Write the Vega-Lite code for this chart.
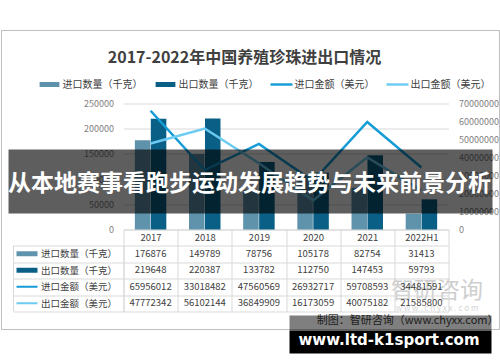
{
  "$schema": "https://vega.github.io/schema/vega-lite/v6.json",
  "padding": {"left": 0.5, "top": 29.5, "right": 0, "bottom": 0},
  "background": "white",
  "title": {"text": "2017-2022年中国养殖珍珠进出口情况", "fontSize": 16, "fontWeight": "bold", "color": "#404040", "anchor": "middle", "offset": -36.5, "dx": -6},
  "config": {"font": "Noto Sans CJK SC", "view": {"stroke": null}},
  "datasets": {
    "trade": [
      {"series": "进口数量（千克）", "year": "2017", "value": 176876},
      {"series": "进口数量（千克）", "year": "2018", "value": 149789},
      {"series": "进口数量（千克）", "year": "2019", "value": 78756},
      {"series": "进口数量（千克）", "year": "2020", "value": 105178},
      {"series": "进口数量（千克）", "year": "2021", "value": 82754},
      {"series": "进口数量（千克）", "year": "2022H1", "value": 31413},
      {"series": "出口数量（千克）", "year": "2017", "value": 219648},
      {"series": "出口数量（千克）", "year": "2018", "value": 220387},
      {"series": "出口数量（千克）", "year": "2019", "value": 133782},
      {"series": "出口数量（千克）", "year": "2020", "value": 112750},
      {"series": "出口数量（千克）", "year": "2021", "value": 147453},
      {"series": "出口数量（千克）", "year": "2022H1", "value": 59793},
      {"series": "进口金额（美元）", "year": "2017", "value": 65956012},
      {"series": "进口金额（美元）", "year": "2018", "value": 33018482},
      {"series": "进口金额（美元）", "year": "2019", "value": 47560569},
      {"series": "进口金额（美元）", "year": "2020", "value": 26932717},
      {"series": "进口金额（美元）", "year": "2021", "value": 59708593},
      {"series": "进口金额（美元）", "year": "2022H1", "value": 34481591},
      {"series": "出口金额（美元）", "year": "2017", "value": 47772342},
      {"series": "出口金额（美元）", "year": "2018", "value": 56102144},
      {"series": "出口金额（美元）", "year": "2019", "value": 36849909},
      {"series": "出口金额（美元）", "year": "2020", "value": 16173059},
      {"series": "出口金额（美元）", "year": "2021", "value": 40075182},
      {"series": "出口金额（美元）", "year": "2022H1", "value": 21585800}
    ]
  },
  "bounds": "flush",
  "spacing": 16,
  "resolve": {"scale": {"color": "independent"}, "legend": {"color": "independent"}},
  "vconcat": [
    {
      "width": 325,
      "height": 126,
      "data": {"name": "trade"},
      "layer": [
        {
          "data": {"values": [{"part": "frame"}]},
          "mark": {"type": "rect", "fill": null, "fillOpacity": 0, "stroke": "#bfbfbf", "strokeWidth": 1},
          "encoding": {
            "x": {"datum": -0.3754, "type": "quantitative", "scale": {"domain": [0, 1], "nice": false, "zero": false}, "axis": null},
            "x2": {"datum": 1.1569},
            "y": {"datum": 1.5794, "type": "quantitative", "scale": {"domain": [0, 1], "nice": false, "zero": false}, "axis": null},
            "y2": {"datum": -0.7937}
          }
        },
        {
          "transform": [{"filter": "indexof(datum.series, '数量') >= 0"}],
          "mark": {"type": "bar"},
          "encoding": {
            "x": {"field": "year", "type": "nominal", "sort": ["2017", "2018", "2019", "2020", "2021", "2022H1"],
                  "scale": {"paddingInner": 0, "paddingOuter": 0},
                  "axis": {"orient": "bottom", "title": null, "labelAngle": 0, "domain": true, "domainColor": "#d9d9d9", "ticks": true, "tickBand": "extent", "tickSize": 16, "tickColor": "#d9d9d9", "labelPadding": -8, "labelBaseline": "middle", "labelFontSize": 9.5, "labelColor": "#404040", "grid": false}},
            "xOffset": {"field": "series", "type": "nominal", "sort": ["进口数量（千克）", "出口数量（千克）"], "scale": {"paddingInner": 0.03, "paddingOuter": 0.71}},
            "y": {"field": "value", "type": "quantitative", "scale": {"domain": [0, 250000], "nice": false},
                  "axis": {"orient": "left", "title": null, "values": [0, 50000, 100000, 150000, 200000, 250000], "format": "d", "grid": true, "gridColor": "#d9d9d9", "domain": false, "ticks": false, "labelPadding": 10, "labelFontSize": 9, "labelColor": "#7f7f7f"}},
            "color": {"field": "series", "type": "nominal",
                      "scale": {"domain": ["进口数量（千克）", "出口数量（千克）", "进口金额（美元）", "出口金额（美元）"], "range": ["#5f93ab", "#0a5f86", "#159cd6", "#6ccbf2"]},
                      "legend": {"orient": "none", "legendX": -85, "legendY": -30, "direction": "horizontal", "title": null, "padding": 0, "labelFontSize": 10, "labelColor": "#404040", "symbolSize": 484, "labelOffset": 2, "columnPadding": 12, "symbolStrokeWidth": 0,
                                 "encode": {"symbols": {"update": {"shape": {"signal": "indexof(datum.value, '数量') >= 0 ? 'M-0.9,-0.23H0.9V0.23H-0.9Z' : 'M-1,-0.11H1V0.11H-1Z'"}}}}}}
          }
        },
        {
          "transform": [{"filter": "indexof(datum.series, '金额') >= 0"}],
          "mark": {"type": "line", "strokeWidth": 2.5},
          "encoding": {
            "x": {"field": "year", "type": "nominal", "sort": ["2017", "2018", "2019", "2020", "2021", "2022H1"], "scale": {"paddingInner": 0, "paddingOuter": 0}, "axis": null},
            "y": {"field": "value", "type": "quantitative", "scale": {"domain": [0, 70000000], "nice": false},
                  "axis": {"orient": "right", "title": null, "values": [0, 10000000, 20000000, 30000000, 40000000, 50000000, 60000000, 70000000], "format": "d", "grid": false, "domain": false, "ticks": false, "labelPadding": 10, "labelFontSize": 9, "labelColor": "#7f7f7f"}},
            "color": {"field": "series", "type": "nominal"}
          }
        },
        {
          "data": {"values": [{"caption": "从本地赛事看跑步运动发展趋势与未来前景分析", "site": "www.ltd-k1sport.com", "source": "制图：智研咨询（www.chyxx.com）", "wm": "智研咨询", "wm2": "w w w . c h y x x . c o m"}]},
          "layer": [
            {
              "mark": {"type": "text", "fontSize": 23, "color": "#cfcfcf"},
              "encoding": {
                "x": {"datum": 0.9646, "type": "quantitative", "scale": {"domain": [0, 1], "nice": false, "zero": false}, "axis": null},
                "y": {"datum": -0.488, "type": "quantitative", "scale": {"domain": [0, 1], "nice": false, "zero": false}, "axis": null},
                "text": {"field": "wm"}
              }
            },
            {
              "mark": {"type": "text", "fontSize": 8, "color": "#d6d6d6"},
              "encoding": {
                "x": {"datum": 0.9646, "type": "quantitative"},
                "y": {"datum": -0.627, "type": "quantitative"},
                "text": {"field": "wm2"}
              }
            },
            {
              "mark": {"type": "text", "fontSize": 11, "color": "#404040", "align": "right"},
              "encoding": {
                "x": {"datum": 1.1538, "type": "quantitative"},
                "y": {"datum": -0.7262, "type": "quantitative"},
                "text": {"field": "source"}
              }
            },
            {
              "mark": {"type": "rect", "color": "#000000", "opacity": 0.5},
              "encoding": {
                "x": {"datum": 0.5108, "type": "quantitative"},
                "x2": {"datum": 1.1323},
                "y": {"datum": -0.6825, "type": "quantitative"},
                "y2": {"datum": -0.8016}
              }
            },
            {
              "mark": {"type": "rect", "color": "#000000", "opacity": 1},
              "encoding": {
                "x": {"datum": 0.5108, "type": "quantitative"},
                "x2": {"datum": 1.1323},
                "y": {"datum": -0.8016, "type": "quantitative"},
                "y2": {"datum": -0.9841}
              }
            },
            {
              "mark": {"type": "text", "fontSize": 15, "font": "DejaVu Sans", "fontWeight": "bold", "color": "white", "baseline": "alphabetic"},
              "encoding": {
                "x": {"datum": 0.8169, "type": "quantitative"},
                "y": {"datum": -0.9206, "type": "quantitative"},
                "text": {"field": "site"}
              }
            },
            {
              "mark": {"type": "rect", "color": "#000000", "opacity": 0.63},
              "encoding": {
                "x": {"datum": -0.3538, "type": "quantitative"},
                "x2": {"datum": 1.1354},
                "y": {"datum": 0.127, "type": "quantitative"},
                "y2": {"datum": 0.6349}
              }
            },
            {
              "mark": {"type": "text", "fontSize": 23, "fontWeight": "bold", "color": "white", "baseline": "middle"},
              "encoding": {
                "x": {"datum": 0.3877, "type": "quantitative"},
                "y": {"datum": 0.3611, "type": "quantitative"},
                "text": {"field": "caption"}
              }
            }
          ]
        }
      ],
      "resolve": {"scale": {"x": "independent", "y": "independent"}}
    },
    {
      "width": 325,
      "height": 66,
      "data": {"name": "trade"},
      "layer": [
        {
          "mark": {"type": "text", "fontSize": 9.5, "color": "#404040"},
          "encoding": {
            "x": {"field": "year", "type": "nominal", "sort": ["2017", "2018", "2019", "2020", "2021", "2022H1"], "scale": {"paddingInner": 0, "paddingOuter": 0},
                  "axis": {"orient": "top", "title": null, "labels": false, "ticks": false, "domain": false, "grid": true, "gridColor": "#d9d9d9", "tickBand": "extent"}},
            "y": {"field": "series", "type": "nominal", "sort": ["进口数量（千克）", "出口数量（千克）", "进口金额（美元）", "出口金额（美元）"], "scale": {"paddingInner": 0, "paddingOuter": 0},
                  "axis": {"orient": "left", "title": null, "grid": true, "gridColor": "#d9d9d9", "tickBand": "extent", "ticks": true, "tickSize": 110, "tickColor": "#d9d9d9", "domain": true, "domainColor": "#d9d9d9", "labelAlign": "left", "labelPadding": -27, "labelFontSize": 9.5, "labelColor": "#404040"}},
            "text": {"field": "value", "type": "quantitative", "format": "d"}
          }
        },
        {
          "transform": [{"filter": "datum.year === '2017'"}],
          "mark": {"type": "rule"},
          "encoding": {
            "x": {"datum": -0.3292, "type": "quantitative", "scale": {"domain": [0, 1], "nice": false, "zero": false}, "axis": null},
            "x2": {"datum": -0.2646},
            "y": {"field": "series", "type": "nominal", "sort": ["进口数量（千克）", "出口数量（千克）", "进口金额（美元）", "出口金额（美元）"]},
            "color": {"field": "series", "type": "nominal",
                      "scale": {"domain": ["进口数量（千克）", "出口数量（千克）", "进口金额（美元）", "出口金额（美元）"], "range": ["#5f93ab", "#0a5f86", "#159cd6", "#6ccbf2"]}, "legend": null},
            "strokeWidth": {"condition": {"test": "indexof(datum.series, '数量') >= 0", "value": 5}, "value": 2}
          }
        },
        {
          "data": {"values": [{"edge": "left"}]},
          "mark": {"type": "rule", "color": "#d9d9d9"},
          "encoding": {
            "x": {"datum": -0.3385, "type": "quantitative", "scale": {"domain": [0, 1], "nice": false, "zero": false}, "axis": null}
          }
        }
      ],
      "resolve": {"scale": {"x": "independent"}}
    }
  ]
}
